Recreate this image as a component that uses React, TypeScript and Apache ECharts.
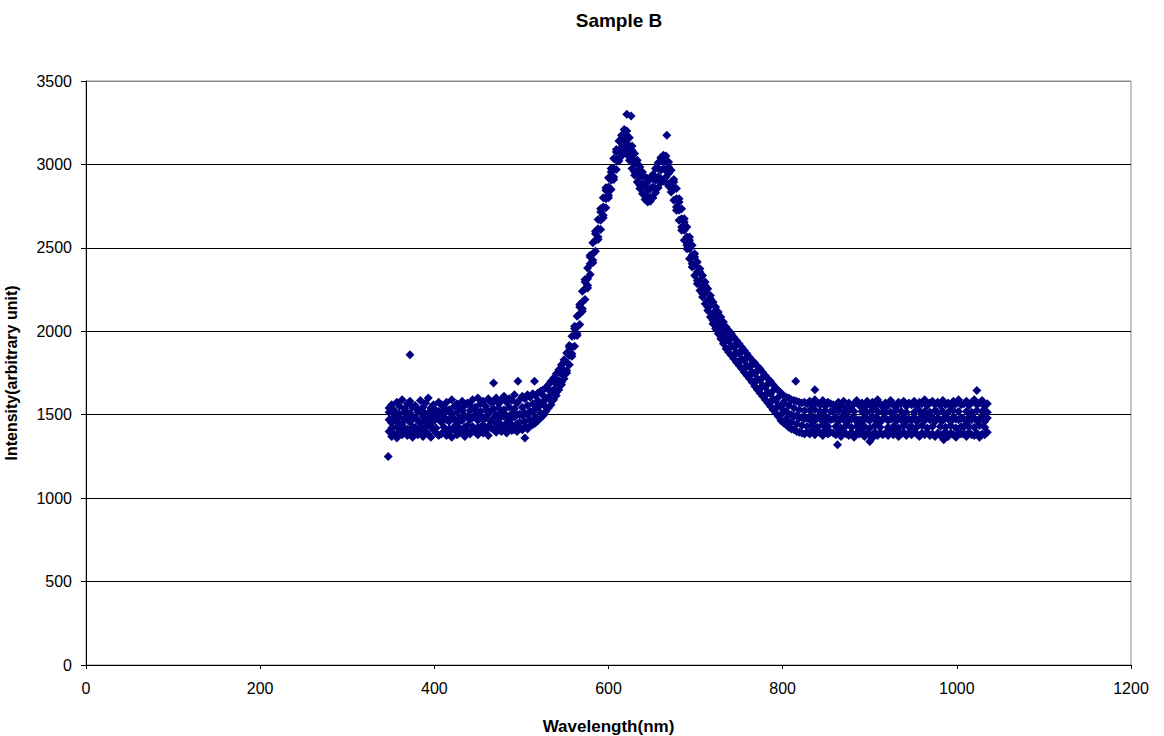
import React, { useEffect, useRef } from "react";
import * as echarts from "echarts";

// Wavelength grid (nm)
const wavelength = [
  348, 351, 354, 357, 360, 363, 366, 369, 372, 375,
  378, 381, 384, 387, 390, 393, 396, 399, 402, 405,
  408, 411, 414, 417, 420, 423, 426, 429, 432, 435,
  438, 441, 444, 447, 450, 453, 456, 459, 462, 465,
  468, 471, 474, 477, 480, 483, 486, 489, 492, 495,
  498, 501, 504, 507, 510, 513, 516, 519, 522, 525,
  528, 531, 534, 537, 540, 543, 546, 549, 552, 555,
  558, 561, 564, 567, 570, 573, 576, 579, 582, 585,
  588, 591, 594, 597, 600, 603, 606, 609, 612, 615,
  618, 621, 624, 627, 630, 633, 636, 639, 642, 645,
  648, 651, 654, 657, 660, 663, 666, 669, 672, 675,
  678, 681, 684, 687, 690, 693, 696, 699, 702, 705,
  708, 711, 714, 717, 720, 723, 726, 729, 732, 735,
  738, 741, 744, 747, 750, 753, 756, 759, 762, 765,
  768, 771, 774, 777, 780, 783, 786, 789, 792, 795,
  798, 801, 804, 807, 810, 813, 816, 819, 822, 825,
  828, 831, 834, 837, 840, 843, 846, 849, 852, 855,
  858, 861, 864, 867, 870, 873, 876, 879, 882, 885,
  888, 891, 894, 897, 900, 903, 906, 909, 912, 915,
  918, 921, 924, 927, 930, 933, 936, 939, 942, 945,
  948, 951, 954, 957, 960, 963, 966, 969, 972, 975,
  978, 981, 984, 987, 990, 993, 996, 999, 1002, 1005,
  1008, 1011, 1014, 1017, 1020, 1023, 1026, 1029, 1032, 1035,
];

// Four readings per wavelength (upper, lower, middle and scattered within the noisy band)
const intensityA = [
  1540, 1560, 1525, 1575, 1550, 1590, 1535, 1565, 1580, 1545,
  1555, 1530, 1585, 1545, 1570, 1600, 1540, 1560, 1525, 1575,
  1560, 1545, 1575, 1530, 1590, 1550, 1565, 1540, 1580, 1555,
  1570, 1555, 1590, 1545, 1600, 1565, 1580, 1550, 1595, 1575,
  1580, 1600, 1565, 1590, 1610, 1575, 1595, 1585, 1620, 1570,
  1590, 1610, 1595, 1620, 1605, 1625, 1615, 1630, 1640, 1650,
  1660, 1680, 1700, 1720, 1745, 1770, 1800, 1830, 1870, 1915,
  1970, 2030, 2090, 2160, 2240, 2310, 2380, 2455, 2530, 2600,
  2670, 2735, 2800, 2860, 2920, 2975, 3035, 3090, 3140, 3175,
  3210, 3200, 3160, 3110, 3065, 3025, 2985, 2955, 2925, 2915,
  2915, 2940, 2975, 3010, 3040, 3055, 3050, 3015, 2965, 2910,
  2855, 2795, 2735, 2675, 2625, 2565, 2515, 2465, 2415, 2375,
  2335, 2295, 2255, 2215, 2175, 2145, 2115, 2085, 2055, 2025,
  2005, 1985, 1965, 1945, 1925, 1905, 1885, 1865, 1845, 1825,
  1810, 1790, 1775, 1755, 1735, 1715, 1700, 1680, 1660, 1645,
  1630, 1615, 1605, 1600, 1590, 1585, 1580, 1575, 1570, 1575,
  1565, 1580, 1555, 1590, 1570, 1560, 1585, 1550, 1575, 1565,
  1560, 1545, 1575, 1555, 1580, 1540, 1570, 1550, 1565, 1585,
  1555, 1570, 1545, 1580, 1560, 1575, 1550, 1590, 1565, 1545,
  1570, 1555, 1585, 1560, 1545, 1575, 1565, 1580, 1550, 1570,
  1560, 1580, 1550, 1575, 1565, 1590, 1555, 1570, 1580, 1560,
  1575, 1555, 1585, 1560, 1570, 1550, 1580, 1565, 1590, 1560,
  1565, 1580, 1555, 1575, 1590, 1560, 1570, 1585, 1550, 1565,
];

const intensityB = [
  1400, 1370, 1385, 1360, 1395, 1380, 1410, 1375, 1390, 1365,
  1395, 1380, 1405, 1370, 1400, 1385, 1365, 1410, 1390, 1375,
  1385, 1400, 1375, 1395, 1365, 1410, 1380, 1390, 1405, 1370,
  1400, 1385, 1410, 1395, 1380, 1415, 1390, 1405, 1375, 1420,
  1410, 1395, 1420, 1400, 1415, 1390, 1425, 1405, 1410, 1400,
  1420, 1410, 1430, 1415, 1435, 1440, 1450, 1465, 1480, 1495,
  1520, 1540, 1560, 1590, 1615, 1650, 1680, 1715, 1750, 1800,
  1850, 1910, 1975, 2040, 2120, 2190, 2260, 2340, 2410, 2480,
  2550, 2610, 2680, 2740, 2800, 2850, 2910, 2970, 3020, 3050,
  3075, 3065, 3025, 2975, 2935, 2895, 2855, 2825, 2790, 2775,
  2780, 2800, 2830, 2860, 2890, 2900, 2895, 2870, 2835, 2785,
  2725, 2665, 2605, 2545, 2495, 2435, 2385, 2335, 2285, 2245,
  2205, 2165, 2125, 2085, 2045, 2015, 1985, 1955, 1925, 1895,
  1875, 1855, 1835, 1815, 1795, 1775, 1755, 1735, 1715, 1695,
  1670, 1650, 1630, 1610, 1590, 1570, 1550, 1530, 1510, 1490,
  1465, 1450, 1440, 1425, 1415, 1410, 1400, 1395, 1390, 1385,
  1395, 1385, 1405, 1380, 1400, 1390, 1375, 1410, 1385, 1395,
  1390, 1380, 1395, 1370, 1400, 1385, 1375, 1395, 1365, 1390,
  1385, 1395, 1370, 1390, 1380, 1360, 1395, 1375, 1390, 1380,
  1390, 1375, 1395, 1380, 1400, 1370, 1385, 1395, 1375, 1390,
  1380, 1395, 1385, 1370, 1390, 1380, 1395, 1375, 1385, 1370,
  1390, 1375, 1385, 1395, 1370, 1390, 1380, 1365, 1390, 1385,
  1385, 1370, 1395, 1380, 1375, 1390, 1365, 1385, 1380, 1395,
];

const intensityC = [
  1470, 1450, 1490, 1460, 1485, 1445, 1475, 1495, 1455, 1480,
  1480, 1465, 1450, 1490, 1470, 1455, 1485, 1460, 1495, 1475,
  1455, 1485, 1470, 1460, 1490, 1475, 1450, 1480, 1465, 1495,
  1490, 1470, 1485, 1500, 1465, 1495, 1475, 1480, 1505, 1460,
  1480, 1500, 1475, 1510, 1490, 1495, 1470, 1505, 1485, 1500,
  1505, 1495, 1510, 1500, 1520, 1515, 1535, 1545, 1560, 1575,
  1595, 1605, 1635, 1650, 1685, 1705, 1745, 1765, 1815, 1855,
  1905, 1975, 2025, 2105, 2175, 2255, 2315, 2405, 2465, 2545,
  2615, 2665, 2745, 2795, 2865, 2905, 2975, 3025, 3085, 3105,
  3145, 3125, 3095, 3035, 3005, 2955, 2925, 2885, 2865, 2845,
  2855, 2865, 2905, 2925, 2965, 2975, 2965, 2945, 2895, 2855,
  2795, 2725, 2675, 2605, 2565, 2495, 2455, 2395, 2355, 2305,
  2265, 2235, 2185, 2155, 2105, 2085, 2045, 2025, 1985, 1965,
  1945, 1915, 1905, 1875, 1865, 1835, 1825, 1795, 1785, 1755,
  1745, 1715, 1705, 1675, 1665, 1635, 1625, 1595, 1585, 1555,
  1550, 1525, 1520, 1505, 1500, 1490, 1495, 1480, 1485, 1475,
  1480, 1470, 1490, 1465, 1485, 1475, 1495, 1460, 1480, 1470,
  1475, 1485, 1460, 1480, 1470, 1490, 1465, 1475, 1485, 1460,
  1470, 1460, 1485, 1475, 1465, 1490, 1470, 1480, 1455, 1475,
  1480, 1465, 1475, 1490, 1460, 1480, 1470, 1485, 1465, 1475,
  1470, 1485, 1460, 1475, 1490, 1465, 1480, 1470, 1485, 1460,
  1480, 1470, 1465, 1490, 1475, 1460, 1485, 1475, 1470, 1480,
  1475, 1460, 1485, 1470, 1480, 1465, 1475, 1490, 1460, 1480,
];

const intensityD = [
  1515, 1420, 1510, 1425, 1505, 1430, 1520, 1415, 1510, 1425,
  1425, 1515, 1420, 1520, 1430, 1510, 1425, 1515, 1420, 1520,
  1515, 1425, 1520, 1415, 1510, 1430, 1515, 1420, 1525, 1425,
  1435, 1525, 1430, 1530, 1425, 1520, 1440, 1530, 1430, 1525,
  1535, 1445, 1540, 1440, 1530, 1450, 1545, 1440, 1535, 1445,
  1455, 1545, 1460, 1555, 1470, 1565, 1485, 1585, 1510, 1615,
  1545, 1655, 1585, 1700, 1635, 1755, 1695, 1815, 1765, 1905,
  1865, 2015, 1985, 2145, 2135, 2295, 2275, 2445, 2425, 2585,
  2565, 2715, 2695, 2845, 2815, 2955, 2925, 3075, 3035, 3155,
  3095, 3175, 3045, 3085, 2955, 3005, 2875, 2935, 2815, 2895,
  2805, 2915, 2855, 2975, 2915, 3015, 2925, 2985, 2855, 2895,
  2745, 2775, 2625, 2655, 2515, 2545, 2405, 2445, 2305, 2355,
  2225, 2275, 2145, 2195, 2065, 2125, 2005, 2065, 1945, 2005,
  1895, 1965, 1855, 1925, 1815, 1885, 1775, 1845, 1735, 1805,
  1695, 1765, 1655, 1725, 1615, 1685, 1575, 1645, 1535, 1605,
  1500, 1575, 1475, 1555, 1455, 1540, 1445, 1530, 1435, 1525,
  1430, 1525, 1435, 1530, 1425, 1520, 1440, 1525, 1430, 1520,
  1520, 1430, 1525, 1420, 1515, 1435, 1525, 1425, 1520, 1430,
  1425, 1520, 1430, 1515, 1420, 1525, 1435, 1520, 1425, 1515,
  1520, 1425, 1515, 1430, 1525, 1420, 1520, 1435, 1515, 1425,
  1430, 1515, 1425, 1525, 1435, 1520, 1420, 1515, 1430, 1525,
  1515, 1430, 1520, 1425, 1515, 1435, 1525, 1420, 1520, 1430,
  1425, 1520, 1430, 1515, 1425, 1525, 1435, 1520, 1425, 1515,
];

// Isolated readings outside the main band
const outlierWavelength = [372, 347, 468, 496, 504, 515, 621, 626, 667, 815, 837, 863, 1023, 900, 985];
const outlierIntensity = [1860, 1250, 1690, 1700, 1360, 1700, 3300, 3290, 3175, 1700, 1650, 1320, 1645, 1340, 1350];

const xTicks = [0, 200, 400, 600, 800, 1000, 1200];
const yTicks = [0, 500, 1000, 1500, 2000, 2500, 3000, 3500];

const FONT = "'Liberation Sans', Arial, sans-serif";
const MARKER = "#000080";

export default function App() {
  const ref = useRef<HTMLDivElement>(null);

  useEffect(() => {
    if (!ref.current) return;
    const chart = echarts.init(ref.current, undefined, { renderer: "svg" });

    const points: number[][] = [];
    [intensityA, intensityB, intensityC, intensityD].forEach((arr) => {
      arr.forEach((v, i) => points.push([wavelength[i], v]));
    });
    outlierWavelength.forEach((w, i) => points.push([w, outlierIntensity[i]]));

    const splitColors = yTicks.map((t, i) => (i === yTicks.length - 1 ? "#8c8c8c" : "#000000"));

    chart.setOption({
      animation: false,
      backgroundColor: "#ffffff",
      title: {
        text: "Sample B",
        left: 614,
        top: 6,
        textAlign: "center",
        textStyle: { fontFamily: FONT, fontSize: 19, fontWeight: "bold", color: "#000" },
      },
      grid: {
        left: 86,
        right: 33,
        top: 81,
        bottom: 71,
        outerBoundsMode: "none",
        containLabel: false,
        show: true,
        borderColor: "#8c8c8c",
        borderWidth: 1,
        backgroundColor: "transparent",
      },
      xAxis: {
        type: "value",
        min: xTicks[0],
        max: xTicks[xTicks.length - 1],
        interval: 200,
        name: "Wavelength(nm)",
        nameLocation: "middle",
        nameGap: 53,
        nameTextStyle: { fontFamily: FONT, fontSize: 17, fontWeight: "bold", color: "#000" },
        axisLine: { show: true, lineStyle: { color: "#000", width: 1 } },
        axisTick: { show: true, length: 4, lineStyle: { color: "#000" } },
        axisLabel: { fontFamily: FONT, fontSize: 16, color: "#000", margin: 15, formatter: (v: number) => String(v) },
        splitLine: { show: false },
      },
      yAxis: {
        type: "value",
        min: yTicks[0],
        max: yTicks[yTicks.length - 1],
        interval: 500,
        name: "Intensity(arbitrary unit)",
        nameLocation: "middle",
        nameGap: 67,
        nameRotate: 90,
        nameTextStyle: { fontFamily: FONT, fontSize: 16, fontWeight: "bold", color: "#000" },
        axisLine: { show: true, lineStyle: { color: "#000", width: 1 } },
        axisTick: { show: true, length: 5, lineStyle: { color: "#000" } },
        axisLabel: { fontFamily: FONT, fontSize: 16, color: "#000", margin: 14, formatter: (v: number) => String(v) },
        splitLine: { show: true, lineStyle: { color: splitColors, width: 1 } },
      },
      series: [
        {
          type: "scatter",
          name: "Sample B",
          data: points,
          symbol: "diamond",
          symbolSize: 9,
          itemStyle: { color: MARKER, opacity: 1 },
          emphasis: { disabled: true },
        },
      ],
    });

    return () => chart.dispose();
  }, []);

  return <div ref={ref} style={{ width: 1164, height: 736, position: "absolute", left: 0, top: 0 }} />;
}
